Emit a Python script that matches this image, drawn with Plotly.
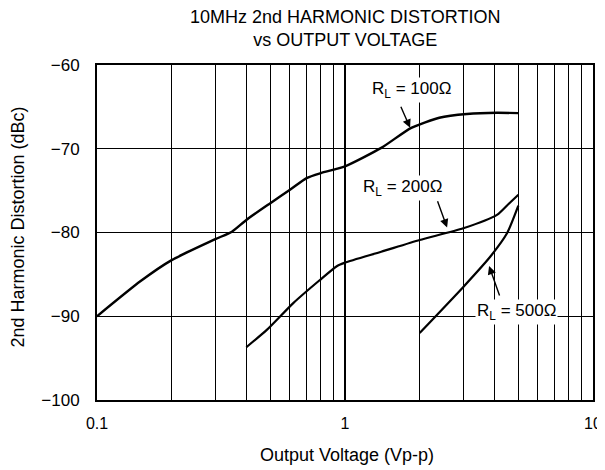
import numpy as np
import plotly.graph_objects as go

# ---- data ----
x_100 = [0.1, 0.15, 0.2, 0.3, 0.35, 0.4, 0.5, 0.6, 0.7, 0.8, 1.0, 1.4, 1.85, 2.4, 3.1, 4.1, 5.0]
y_100 = [-90.0, -85.8, -83.3, -80.8, -79.9, -78.5, -76.5, -74.9, -73.5, -72.9, -72.1, -69.9, -67.5, -66.3, -65.85, -65.7, -65.75]

x_200 = [0.4, 0.485, 0.62, 0.79, 0.93, 1.0, 1.4, 2.0, 3.0, 4.1, 4.6, 5.0]
y_200 = [-93.7, -91.6, -88.4, -85.7, -84.0, -83.6, -82.3, -80.9, -79.5, -77.9, -76.5, -75.5]

x_500 = [2.0, 3.0, 3.85, 4.5, 5.0]
y_500 = [-92.0, -86.5, -82.9, -80.1, -76.8]

x_ticks = [0.1, 1, 10]
x_ticklabels = ["0.1", "1", "10"]
x_minor = [0.2, 0.3, 0.4, 0.5, 0.6, 0.7, 0.8, 0.9, 2, 3, 4, 5, 6, 7, 8, 9]
y_ticks = [-100, -90, -80, -70, -60]
y_ticklabels = ["\u2212100", "\u221290", "\u221280", "\u221270", "\u221260"]

title_text = "10MHz 2nd HARMONIC DISTORTION<br>vs OUTPUT VOLTAGE"
x_title = "Output Voltage (Vp-p)"
y_title = "2nd Harmonic Distortion (dBc)"

# label text, label position, arrow tail, arrow head (x in volts, y in dBc)
labels = ["R<sub>L</sub> = 100\u03a9", "R<sub>L</sub> = 200\u03a9", "R<sub>L</sub> = 500\u03a9"]
label_x = [1.85, 1.71, 4.9]
label_y = [-63.0, -74.7, -89.5]
tail_x = [1.67, 2.35, 4.22]
tail_y = [-64.8, -76.1, -87.7]
head_x = [1.83, 2.58, 3.81]
head_y = [-67.5, -79.4, -84.0]

FONT = "Liberation Sans, Arial, sans-serif"

fig = go.Figure()
for xs, ys, w in [(x_100, y_100, 2.4), (x_200, y_200, 2.2), (x_500, y_500, 2.2)]:
    fig.add_trace(go.Scatter(x=xs, y=ys, mode="lines",
                             line=dict(color="black", width=w, shape="spline", smoothing=0.6),
                             showlegend=False, hoverinfo="skip"))

for i in range(3):
    fig.add_annotation(x=np.log10(label_x[i]), y=label_y[i], xref="x", yref="y",
                       text=labels[i], showarrow=False, bgcolor="white",
                       font=dict(family=FONT, size=17, color="black"), borderpad=1)
    fig.add_annotation(x=np.log10(head_x[i]), y=head_y[i], xref="x", yref="y",
                       ax=np.log10(tail_x[i]), ay=tail_y[i], axref="x", ayref="y",
                       text="", showarrow=True, arrowhead=2, arrowsize=1.2,
                       arrowwidth=1.4, arrowcolor="black")

# titles as paper-positioned text
fig.add_annotation(text=title_text, xref="paper", yref="paper", x=0.5, y=1.1075,
                   xanchor="center", yanchor="middle", showarrow=False,
                   font=dict(family=FONT, size=18, color="black"))
fig.add_annotation(text=x_title, xref="paper", yref="paper", x=0.504, y=-0.164,
                   xanchor="center", yanchor="middle", showarrow=False,
                   font=dict(family=FONT, size=18, color="black"))
fig.add_annotation(text=y_title, xref="paper", yref="paper", x=-0.159, y=0.515,
                   xanchor="center", yanchor="middle", showarrow=False, textangle=-90,
                   font=dict(family=FONT, size=18, color="black"))

fig.update_layout(
    width=597, height=462,
    margin=dict(l=89, r=12, t=57, b=70),
    paper_bgcolor="white", plot_bgcolor="white",
    font=dict(family=FONT, size=16, color="black"),
    xaxis=dict(type="log", range=[-1, 1], tickvals=x_ticks, ticktext=x_ticklabels,
               showgrid=True, gridcolor="black", gridwidth=2, automargin=False,
               minor=dict(tickvals=x_minor, showgrid=True, gridcolor="black", gridwidth=1, ticks=""),
               showline=True, linecolor="black", linewidth=2, mirror=True,
               ticks="", ticklabelstandoff=8, zeroline=False,
               tickfont=dict(family=FONT, size=16, color="black")),
    yaxis=dict(range=[-100, -60], tickvals=y_ticks, ticktext=y_ticklabels,
               showgrid=True, gridcolor="black", gridwidth=1, automargin=False,
               showline=True, linecolor="black", linewidth=2, mirror=True,
               ticks="", ticklabelstandoff=12, zeroline=False,
               tickfont=dict(family=FONT, size=17, color="black")),
)

fig.write_html("out.html")
